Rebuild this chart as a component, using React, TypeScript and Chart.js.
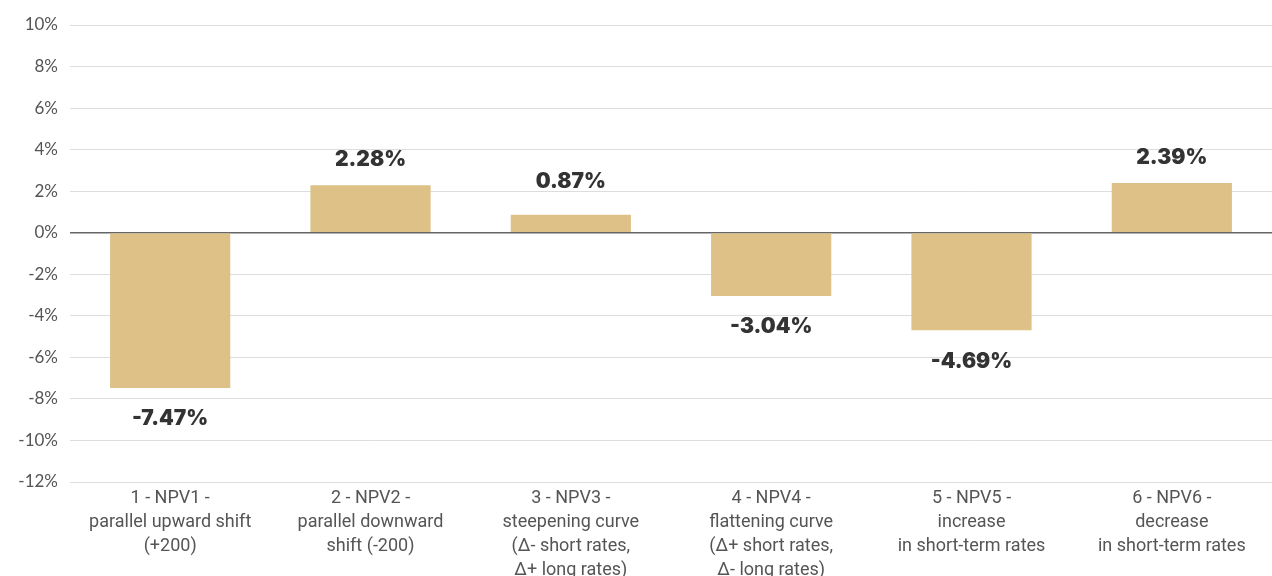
import React, { useEffect, useRef } from "react";
import { Chart, registerables } from "chart.js";

Chart.register(...registerables);

const categories: string[][] = [
  ["1 - NPV1 -", "parallel upward shift", "(+200)"],
  ["2 - NPV2 -", "parallel downward", "shift (-200)"],
  ["3 - NPV3 -", "steepening curve", "(Δ- short rates,", "Δ+ long rates)"],
  ["4 - NPV4 -", "flattening curve", "(Δ+ short rates,", "Δ- long rates)"],
  ["5 - NPV5 -", "increase", "in short-term rates"],
  ["6 - NPV6 -", "decrease", "in short-term rates"],
];
const npvValues: number[] = [-7.47, 2.28, 0.87, -3.04, -4.69, 2.39];
const valueLabels: string[] = ["-7.47%", "2.28%", "0.87%", "-3.04%", "-4.69%", "2.39%"];

const labelPlugin = {
  id: "valueLabels",
  afterDatasetsDraw(chart: any) {
    const ctx = chart.ctx;
    const meta = chart.getDatasetMeta(0);
    const zero = chart.scales.y.getPixelForValue(0);
    ctx.save();
    ctx.font = "900 21px Inter, 'Open Sans', sans-serif";
    ctx.fillStyle = "#333333";
    ctx.textAlign = "center";
    ctx.textBaseline = "alphabetic";
    meta.data.forEach((bar: any, i: number) => {
      const v = npvValues[i];
      const center = v >= 0 ? Math.min(bar.y - 27, zero - 52) : Math.max(bar.y + 30, zero + 52);
      ctx.fillText(valueLabels[i], bar.x, center + 7.5);
    });
    ctx.restore();
  },
};

export default function App() {
  const ref = useRef<HTMLCanvasElement>(null);
  useEffect(() => {
    if (!ref.current) return;
    const chart = new Chart(ref.current, {
      type: "bar",
      data: {
        labels: categories,
        datasets: [
          {
            data: npvValues,
            backgroundColor: "#DDC187",
            borderWidth: 0,
            categoryPercentage: 0.6,
            barPercentage: 1,
          },
        ],
      },
      options: {
        animation: false,
        responsive: false,
        maintainAspectRatio: false,
        layout: { padding: { top: 25, right: 0, left: 0, bottom: 0 } },
        plugins: { legend: { display: false }, tooltip: { enabled: false } },
        scales: {
          x: {
            grid: { display: false, drawTicks: false },
            border: { display: false },
            ticks: {
              color: "#555555",
              font: { family: "Roboto, 'Noto Sans', sans-serif", size: 18, lineHeight: 1.3333 },
              padding: 5,
              maxRotation: 0,
              autoSkip: false,
            },
            afterFit(scale: any) {
              scale.height = 94;
            },
          },
          y: {
            min: -12,
            max: 10,
            grid: {
              drawTicks: false,
              color: (c: any) => (c.tick && c.tick.value === 0 ? "#666666" : "#dddddd"),
              lineWidth: (c: any) => (c.tick && c.tick.value === 0 ? 1.5 : 1),
            },
            border: { display: false },
            ticks: {
              stepSize: 2,
              color: "#555555",
              font: { family: "Lato, 'Open Sans', sans-serif", size: 17 },
              padding: 12,
              callback: (v: any) => `${v}%`,
            },
            afterFit(scale: any) {
              scale.width = 70;
            },
          },
        },
      },
      plugins: [labelPlugin],
    });
    return () => chart.destroy();
  }, []);
  return (
    <div style={{ position: "absolute", left: 0, top: 0, width: 1272, height: 576, background: "#fff" }}>
      <canvas ref={ref} width={1272} height={576} style={{ width: 1272, height: 576 }} />
    </div>
  );
}
